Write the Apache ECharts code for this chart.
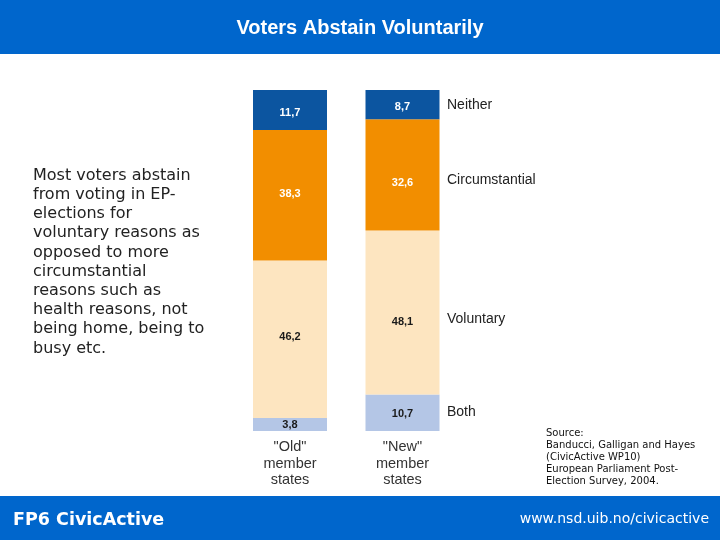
<!DOCTYPE html>
<html>
<head>
<meta charset="utf-8">
<script src="https://cdn.jsdelivr.net/npm/echarts@6/dist/echarts.min.js"></script>
<style>
html,body{margin:0;padding:0;background:#fff;}
#c{width:720px;height:540px;}
</style>
</head>
<body>
<div id="c"></div>
<script>
var categories = ['"Old"\nmember\nstates', '"New"\nmember\nstates'];
var seriesNames = ['Both', 'Voluntary', 'Circumstantial', 'Neither'];
var both = [3.8, 10.7];
var voluntary = [46.2, 48.1];
var circumstantial = [38.3, 32.6];
var neither = [11.7, 8.7];

var title = 'Voters Abstain Voluntarily';
var bodyText = 'Most voters abstain\nfrom voting in EP-\nelections for\nvoluntary reasons as\nopposed to more\ncircumstantial\nreasons such as\nhealth reasons, not\nbeing home, being to\nbusy etc.';
var sourceText = 'Source:\nBanducci, Galligan and Hayes\n(CivicActive WP10)\nEuropean Parliament Post-\nElection Survey, 2004.';
var footerLeft = 'FP6 CivicActive';
var footerRight = 'www.nsd.uib.no/civicactive';

var chart = echarts.init(document.getElementById('c'), null, {renderer: 'canvas'});

function fmt(p) { return String(p.value).replace('.', ','); }

var colors = ['#b4c6e6', '#fde5c0', '#f28e00', '#0c55a0'];
var labelColors = ['#1a1a1a', '#1a1a1a', '#ffffff', '#ffffff'];
var dataSets = [both, voluntary, circumstantial, neither];
// per-bar label nudges (style only), [old, new]
var labelNudge = [[0, 1], [-2, 9], [-1, 8], [3, 2]];

var series = seriesNames.map(function (name, i) {
  return {
    name: name,
    type: 'bar',
    stack: 'total',
    barWidth: 74,
    data: dataSets[i].map(function (v, j) {
      return {value: v, label: {offset: [0, labelNudge[i][j]]}};
    }),
    itemStyle: {color: colors[i]},
    label: {
      show: true,
      position: 'inside',
      formatter: fmt,
      color: labelColors[i],
      fontFamily: 'Liberation Sans, Arial',
      fontWeight: 'bold',
      fontSize: 11
    },
    silent: true
  };
});

var legendFont = '14px "Liberation Sans", Arial';

chart.setOption({
  animation: false,
  grid: {left: 233.75, width: 225, top: 90, bottom: 109},
  xAxis: {
    type: 'category',
    data: categories,
    axisLine: {show: false},
    axisTick: {show: false},
    axisLabel: {
      margin: 8,
      fontFamily: 'Liberation Sans, Arial',
      fontSize: 14.5,
      lineHeight: 16.5,
      color: '#333333'
    }
  },
  yAxis: {
    type: 'value',
    min: 0,
    max: 100,
    show: false
  },
  series: series,
  graphic: [
    {type: 'rect', left: 0, top: 0, shape: {width: 720, height: 54}, style: {fill: '#0066cc'}},
    {type: 'text', left: 'center', top: 18, style: {text: title, fill: '#ffffff', font: 'bold 20px "Liberation Sans", Arial'}},
    {type: 'text', left: 33, top: 166, style: {text: bodyText, fill: '#222222', font: '16px "DejaVu Sans"', lineHeight: 19.2}},
    {type: 'text', left: 447, top: 98, style: {text: 'Neither', fill: '#222222', font: legendFont}},
    {type: 'text', left: 447, top: 173, style: {text: 'Circumstantial', fill: '#222222', font: legendFont}},
    {type: 'text', left: 447, top: 312, style: {text: 'Voluntary', fill: '#222222', font: legendFont}},
    {type: 'text', left: 447, top: 405, style: {text: 'Both', fill: '#222222', font: legendFont}},
    {type: 'text', left: 546, top: 427, style: {text: sourceText, fill: '#111111', font: '10px "DejaVu Sans"', lineHeight: 12}},
    {type: 'rect', left: 0, top: 496, shape: {width: 720, height: 44}, style: {fill: '#0066cc'}},
    {type: 'text', left: 13, top: 511, style: {text: footerLeft, fill: '#ffffff', font: 'bold 17.5px "DejaVu Sans"'}},
    {type: 'text', right: 11, top: 512, style: {text: footerRight, fill: '#ffffff', font: '14px "DejaVu Sans"'}}
  ]
});
</script>
</body>
</html>
